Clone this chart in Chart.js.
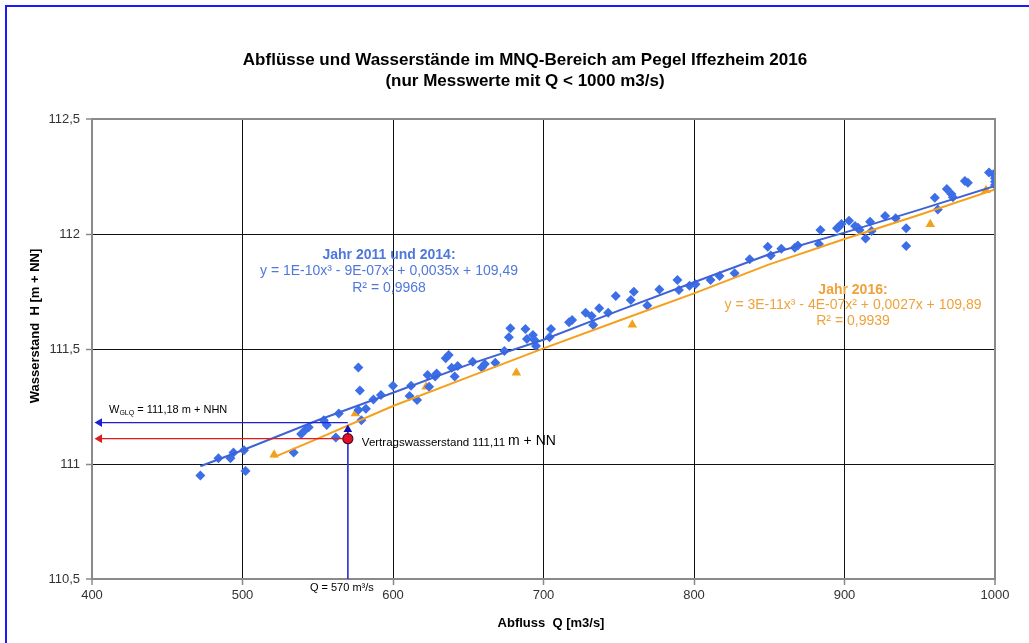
<!DOCTYPE html>
<html>
<head>
<meta charset="utf-8">
<script src="https://cdn.jsdelivr.net/npm/chart.js@4.4.0/dist/chart.umd.min.js"></script>
<style>
  html, body { margin: 0; padding: 0; background: #fff; overflow: hidden; }
  #wrap { position: relative; width: 1029px; height: 643px; overflow: hidden; }
  #frame { position: absolute; left: 5px; top: 5px; width: 1100px; height: 700px;
           border-left: 2px solid #1a1aff; border-top: 2px solid #1a1aff; pointer-events: none; }
  canvas { position: absolute; left: 0; top: 0; }
</style>
</head>
<body>
<div id="wrap">
  <canvas id="chart" width="1029" height="643"></canvas>
  <div id="frame"></div>
</div>
<script>
/* ====== Data ====== */
const titleLines = ["Abflüsse und Wasserstände im MNQ-Bereich am Pegel Iffezheim 2016", "(nur Messwerte mit Q < 1000 m3/s)"];
const xTitle = "Abfluss  Q [m3/s]";
const yTitle = "Wasserstand  H [m + NN]";

const xTicks = [400, 500, 600, 700, 800, 900, 1000];
const xTickLabels = ["400", "500", "600", "700", "800", "900", "1000"];
const yTicks = [110.5, 111, 111.5, 112, 112.5];
const yTickLabels = ["110,5", "111", "111,5", "112", "112,5"];

// Jahr 2011 und 2014 (blue diamonds)
const blueQ = [472, 484, 492, 494, 501, 502, 534, 539, 542, 544, 554, 556, 562, 564, 577, 578, 577, 582, 579, 587,
  592, 600, 611, 612, 616, 623, 624, 628, 629, 635, 637, 639, 641, 643, 653, 659, 661, 668, 674, 677,
  678, 688, 689, 693, 694, 695, 705, 704, 717, 719, 728, 732, 733, 737, 743, 748, 758, 760, 769, 777,
  789, 790, 797, 801, 811, 817, 827, 837, 849, 851, 858, 867, 869, 883, 884, 895, 896, 898, 903, 907,
  909, 910, 914, 917, 918, 927, 934, 941, 941, 960, 962, 968, 971, 972, 980, 982, 996, 999, 1000, 1000, 1000];
const blueH = [110.95, 111.025, 111.025, 111.05, 111.06, 110.97, 111.05, 111.13, 111.15, 111.16, 111.19, 111.17, 111.115, 111.22, 111.42, 111.32, 111.235, 111.24, 111.19, 111.28,
  111.30, 111.34, 111.296, 111.34, 111.278, 111.387, 111.336, 111.38, 111.394, 111.46, 111.474, 111.419, 111.38, 111.426, 111.445, 111.42, 111.435, 111.44, 111.491, 111.551,
  111.59, 111.587, 111.543, 111.561, 111.539, 111.513, 111.587, 111.551, 111.616, 111.626, 111.658, 111.643, 111.604, 111.677, 111.658, 111.73, 111.713, 111.749, 111.689, 111.759,
  111.80, 111.757, 111.775, 111.781, 111.80, 111.817, 111.829, 111.89, 111.945, 111.906, 111.936, 111.94, 111.95, 111.957, 112.017, 112.025, 112.029, 112.043, 112.058, 112.035,
  112.027, 112.017, 111.98, 112.053, 112.013, 112.078, 112.068, 112.025, 111.948, 112.158, 112.107, 112.196, 112.174, 112.16, 112.23, 112.223, 112.267, 112.26, 112.242, 112.227, 112.213];

// Jahr 2016 (orange triangles)
const orangeQ = [521, 575, 622, 682, 759, 957, 994];
const orangeH = [111.04, 111.22, 111.336, 111.397, 111.605, 112.042, 112.19];

// trend lines
const trendBlueQ = [472, 500, 550, 600, 650, 700, 750, 800, 850, 900, 950, 1000];
const trendBlueH = [110.99, 111.06, 111.19, 111.31, 111.432, 111.54, 111.667, 111.79, 111.912, 112.006, 112.106, 112.209];
const trendOrangeQ = [521, 550, 600, 650, 700, 750, 800, 850, 900, 950, 1000];
const trendOrangeH = [111.03, 111.11, 111.252, 111.378, 111.503, 111.623, 111.742, 111.868, 111.978, 112.084, 112.194];

// markers for the contract water level
const markQ = 570;
const wGLQ = 111.18;
const vertragH = 111.11;
const arrowEndQ = 405;

/* ====== Helpers ====== */
const pts = (xs, ys) => xs.map((v, i) => ({ x: v, y: ys[i] }));
const FONT = '"Liberation Sans", Arial, sans-serif';
const BLUE = "#3c6ee8";
const ORANGE = "#f5a01c";
const GRAY = "#8a8a8a";

/* ====== Overlay texts ====== */
const overlay = {
  id: "overlay",
  afterDraw(chart) {
    const { ctx, chartArea: a, scales: { x, y } } = chart;
    ctx.save();
    // right & top frame of the plot area
    ctx.strokeStyle = GRAY;
    ctx.lineWidth = 2;
    ctx.beginPath();
    ctx.moveTo(a.left, a.top);
    ctx.lineTo(a.right, a.top);
    ctx.lineTo(a.right, a.bottom);
    ctx.stroke();

    ctx.fillStyle = "#000";
    ctx.textAlign = "center";
    ctx.textBaseline = "middle";
    ctx.font = "bold 17px " + FONT;
    ctx.fillText(titleLines[0], 525, 60);
    ctx.fillText(titleLines[1], 525, 81);

    ctx.font = "bold 13px " + FONT;
    ctx.fillText(xTitle, 551, 623);
    ctx.save();
    ctx.translate(35, 326);
    ctx.rotate(-Math.PI / 2);
    ctx.fillText(yTitle, 0, 0);
    ctx.restore();

    // fit labels
    ctx.fillStyle = "#5078dc";
    ctx.font = "bold 14px " + FONT;
    ctx.fillText("Jahr 2011 und 2014:", 389, 255);
    ctx.font = "14px " + FONT;
    ctx.fillText("y = 1E-10x³ - 9E-07x² + 0,0035x + 109,49", 389, 271);
    ctx.fillText("R² = 0,9968", 389, 288);

    ctx.fillStyle = "#f0a23a";
    ctx.font = "bold 14px " + FONT;
    ctx.fillText("Jahr 2016:", 853, 290);
    ctx.font = "14px " + FONT;
    ctx.fillText("y = 3E-11x³ - 4E-07x² + 0,0027x + 109,89", 853, 305);
    ctx.fillText("R² = 0,9939", 853, 321);

    // W_GLQ label
    ctx.fillStyle = "#000";
    ctx.textAlign = "left";
    let px = 109;
    const wy = y.getPixelForValue(wGLQ) - 13;
    ctx.font = "11px " + FONT;
    ctx.fillText("W", px, wy);
    px += ctx.measureText("W").width;
    ctx.font = "7px " + FONT;
    ctx.fillText("GLQ", px, wy + 3);
    px += ctx.measureText("GLQ").width;
    ctx.font = "11px " + FONT;
    ctx.fillText(" = 111,18 m + NHN", px, wy);

    // Vertragswasserstand label
    const vx = x.getPixelForValue(markQ) + 14;
    const vy = y.getPixelForValue(vertragH) + 4;
    ctx.font = "11.5px " + FONT;
    const part = "Vertragswasserstand 111,11";
    ctx.fillText(part, vx, vy);
    const pw = ctx.measureText(part).width;
    ctx.font = "14px " + FONT;
    ctx.fillText("m + NN", vx + pw + 3, vy - 2);

    // Q label
    ctx.textAlign = "center";
    ctx.font = "11px " + FONT;
    ctx.fillText("Q = 570 m³/s", x.getPixelForValue(markQ) - 6, a.bottom + 9);
    ctx.restore();
  }
};

/* ====== Chart ====== */
const edgeColor = (edges) => (c) => (c.tick && edges.includes(c.tick.value) ? GRAY : "#111");
const edgeWidth = (edges) => (c) => (c.tick && edges.includes(c.tick.value) ? 2 : 1);

new Chart(document.getElementById("chart"), {
  type: "scatter",
  data: {
    datasets: [
      {
        label: "Trend 2011/2014", type: "line", data: pts(trendBlueQ, trendBlueH),
        borderColor: "#3e63d6", borderWidth: 2, pointRadius: 0, fill: false, order: 1
      },
      {
        label: "Trend 2016", type: "line", data: pts(trendOrangeQ, trendOrangeH),
        borderColor: ORANGE, borderWidth: 2, pointRadius: 0, fill: false, order: 2
      },
      {
        label: "Jahr 2011 und 2014", data: pts(blueQ, blueH),
        pointStyle: "rectRot", pointRadius: 5, backgroundColor: BLUE, borderColor: BLUE, borderWidth: 0, order: 3
      },
      {
        label: "Jahr 2016", data: pts(orangeQ, orangeH),
        pointStyle: "triangle", pointRadius: 5.5, backgroundColor: ORANGE, borderColor: ORANGE, borderWidth: 0, order: 3
      },
      {
        label: "WGLQ", type: "line", data: [{ x: markQ, y: wGLQ }, { x: arrowEndQ, y: wGLQ }],
        borderColor: "#1f1fd6", borderWidth: 1.3, pointStyle: "triangle", pointRotation: -90,
        pointRadius: [0, 5], backgroundColor: "#1f1fd6", pointBorderWidth: 0, order: 0
      },
      {
        label: "Vertrag", type: "line", data: [{ x: markQ, y: vertragH }, { x: arrowEndQ, y: vertragH }],
        borderColor: "#e01b1b", borderWidth: 1.3, pointStyle: "triangle", pointRotation: -90,
        pointRadius: [0, 5], backgroundColor: "#e01b1b", pointBorderWidth: 0, order: 0
      },
      {
        label: "Q", type: "line", data: [{ x: markQ, y: 111.15 }, { x: markQ, y: 110.5 }],
        borderColor: "#3535d8", borderWidth: 1, pointRadius: 0, order: 0
      },
      {
        label: "Marke", data: [{ x: markQ, y: 111.15 }],
        pointStyle: "triangle", pointRadius: 5, backgroundColor: "#1010b8", borderWidth: 0, order: -1
      },
      {
        label: "Vertragswasserstand", data: [{ x: markQ, y: vertragH }],
        pointStyle: "circle", pointRadius: 5, backgroundColor: "#e0102a", borderColor: "#5a0a20", borderWidth: 1.2, order: -1
      }
    ]
  },
  options: {
    responsive: false,
    animation: false,
    events: [],
    layout: { padding: { left: 5, right: 34, top: 119, bottom: 0 } },
    plugins: { legend: { display: false }, tooltip: { enabled: false }, title: { display: false } },
    scales: {
      x: {
        type: "linear", min: 400, max: 1000,
        afterBuildTicks: (s) => { s.ticks = xTicks.map(v => ({ value: v })); },
        afterFit: (s) => { s.height = 64; },
        ticks: {
          autoSkip: false, maxRotation: 0, padding: 3, color: "#333", font: { family: FONT, size: 13 },
          callback: (v) => xTickLabels[xTicks.indexOf(v)]
        },
        grid: { color: edgeColor([400, 1000]), lineWidth: edgeWidth([400, 1000]), tickLength: 6, tickColor: GRAY, tickWidth: 1.5 },
        border: { color: GRAY, width: 2 }
      },
      y: {
        type: "linear", min: 110.5, max: 112.5,
        afterBuildTicks: (s) => { s.ticks = yTicks.map(v => ({ value: v })); },
        afterFit: (s) => { s.width = 87; },
        ticks: {
          padding: 6, color: "#333", font: { family: FONT, size: 13 },
          callback: (v) => yTickLabels[yTicks.indexOf(v)]
        },
        grid: { color: edgeColor([110.5, 112.5]), lineWidth: edgeWidth([110.5, 112.5]), tickLength: 6, tickColor: GRAY, tickWidth: 1.5 },
        border: { color: GRAY, width: 2 }
      }
    }
  },
  plugins: [overlay]
});
</script>
</body>
</html>
